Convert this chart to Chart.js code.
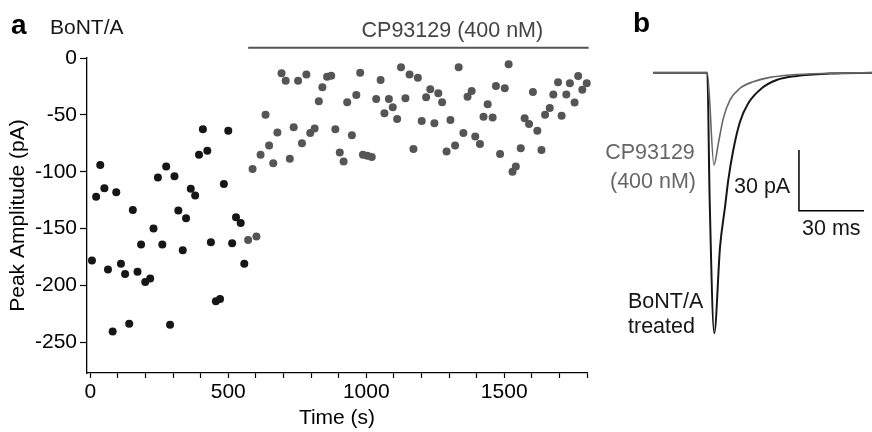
<!DOCTYPE html>
<html>
<head>
<meta charset="utf-8">
<script src="https://cdn.jsdelivr.net/npm/chart.js@4/dist/chart.umd.min.js"></script>
<style>
  html, body { margin: 0; padding: 0; background: #fff; }
  #wrap { position: relative; width: 872px; height: 432px; overflow: hidden; }
  #chart-a { position: absolute; left: 0; top: 0; }
  #chart-b { position: absolute; left: 600px; top: 0; }
</style>
</head>
<body>
<div id="wrap">
  <canvas id="chart-a" width="600" height="432"></canvas>
  <canvas id="chart-b" width="272" height="432"></canvas>
</div>
<script>
// 1. DATOS PANEL A (tiempo en s, amplitud en pA)
const bontTime = [6, 21, 36, 51, 64, 81, 94, 111, 126, 141, 154, 171, 184, 199, 217, 229, 245, 261, 275, 289,
  305, 319, 335, 347, 364, 380, 394, 408, 424, 437, 455, 470, 484, 500, 514, 528, 545, 558];
const bontAmp = [-178, -122, -94, -114.5, -186, -240.5, -118, -181, -190, -233.7, -133.6, -188, -164, -197, -194, -150, -105, -164, -95.5, -234.6,
  -104, -134, -169, -141, -115, -121, -85, -62.7, -81.5, -162, -214, -212, -110.7, -63.9, -163, -140, -145, -181];

const cpTime = [572, 588, 602, 617, 635, 648, 663, 678, 693, 708, 723, 737, 753, 767, 783, 797, 813, 828, 841, 858,
  873, 888, 904, 918, 931, 948, 964, 978, 988, 1004, 1020, 1036, 1052, 1066, 1082, 1096, 1112, 1126, 1142, 1157,
  1171, 1187, 1201, 1217, 1232, 1247, 1261, 1275, 1291, 1305, 1322, 1335, 1352, 1367, 1382, 1395, 1412, 1425, 1440, 1458,
  1470, 1485, 1502, 1516, 1530, 1542, 1560, 1574, 1590, 1604, 1620, 1635, 1648, 1665, 1678, 1695, 1708, 1725, 1738, 1755,
  1768, 1783, 1799];
const cpAmp = [-160, -97.5, -157, -85, -50, -77, -92.5, -65.6, -13.5, -20, -88.7, -61, -20, -75, -14.4, -66, -62, -38, -25.8, -16.4,
  -15.5, -62.7, -83, -91, -39, -68, -32.5, -12.9, -85, -86, -87, -36, -19.3, -48.6, -36, -43.3, -53.6, -8.2, -35.4, -14.4,
  -80, -17.3, -55.4, -34.6, -27.5, -57.4, -31, -39, -82.3, -54.5, -77, -8.2, -66, -34, -29, -69, -75.6, -51.6, -40.7, -52.4,
  -24.6, -84.4, -26.6, -5.6, -100, -95.5, -79.4, -53, -58, -30, -64, -81, -50, -44, -32, -21.4, -50.7, -32, -22.3, -39.2,
  -15.8, -28, -22.3];

// barra de aplicación del fármaco
const drugBarTime = [572, 1806];
const drugBarAmp = [9, 9];

const xTicks = [0, 100, 200, 300, 400, 500, 600, 700, 800, 900, 1000, 1100, 1200, 1300, 1400, 1500, 1600, 1700, 1800];
const yTicks = [0, -50, -100, -150, -200, -250];

// 2. DATOS PANEL B (trazas, ms / pA)
const bontTraceTime = [-25, 0, 1.1, 3.2, 5.9, 8.2, 9.7, 12.0, 15.1, 18.9, 25.1, 32.0, 41.3, 56.6, 76];
const bontTrace = [0, 0, -63, -129, -86.1, -66.3, -53.1, -38.3, -24.3, -15.1, -7.7, -3.6, -1.6, -0.4, 0];
const cpTraceTime = [-25, 0, 3.1, 5.1, 7.4, 10.5, 15.1, 21.2, 28.9, 38.2, 56.6, 76];
const cpTrace = [0, 0, -45.7, -35, -22.6, -13.5, -7.7, -4.5, -2.3, -1.1, -0.3, 0];
// barra de escala 30 pA / 30 ms
const scaleBarTime = [42.3, 42.3, 72.3];
const scaleBarAmp = [-38.3, -68.3, -68.3];

const FONT = "'Liberation Sans', Arial, sans-serif";
const BLACK = '#161616';
const GREY = '#555555';
Chart.defaults.font.family = FONT;

const toXY = (xs, ys) => xs.map((x, i) => ({ x: x, y: ys[i] }));

// 3. TEXTOS PANEL A
const textosA = {
  id: 'textosA',
  afterDraw(chart) {
    const ctx = chart.ctx;
    const sx = chart.scales.x, sy = chart.scales.y;
    ctx.save();
    ctx.textBaseline = 'middle';
    ctx.fillStyle = '#000';
    ctx.font = 'bold 28px ' + FONT;
    ctx.textAlign = 'left';
    ctx.fillText('a', 11, 26);
    ctx.font = '21px ' + FONT;
    ctx.fillStyle = BLACK;
    ctx.fillText('BoNT/A', 50, 28);
    ctx.fillStyle = '#444';
    ctx.textAlign = 'center';
    ctx.font = '21.5px ' + FONT;
    ctx.fillText('CP93129 (400 nM)', sx.getPixelForValue(1312), sy.getPixelForValue(24));
    ctx.restore();
  }
};

const chartA = new Chart(document.getElementById('chart-a'), {
  type: 'scatter',
  data: {
    datasets: [
      { label: 'BoNT/A', data: toXY(bontTime, bontAmp), backgroundColor: BLACK, borderColor: BLACK,
        pointRadius: 4, borderWidth: 0, clip: false },
      { label: 'CP93129', data: toXY(cpTime, cpAmp), backgroundColor: GREY, borderColor: GREY,
        pointRadius: 4, borderWidth: 0, clip: false },
      { type: 'line', label: 'bar', data: toXY(drugBarTime, drugBarAmp), borderColor: '#555', borderWidth: 2,
        pointRadius: 0, clip: false }
    ]
  },
  options: {
    responsive: false, animation: false,
    layout: { padding: { top: 58, right: 13, left: 0, bottom: 0 } },
    plugins: { legend: { display: false }, tooltip: { enabled: false } },
    scales: {
      x: {
        type: 'linear', min: -12, max: 1800,
        afterBuildTicks: s => { s.ticks = xTicks.map(v => ({ value: v })); },
        afterFit: s => { s.height = 59; },
        grid: { drawOnChartArea: false, tickLength: 5, color: '#000', tickWidth: 1.2 },
        border: { color: '#000', width: 1.3 },
        ticks: { color: '#000', font: { size: 21 }, padding: 2, maxRotation: 0, autoSkip: false,
          callback: v => (v % 500 === 0 ? String(v) : '') },
        title: { display: true, text: 'Time (s)', color: '#000', font: { size: 21 }, padding: { top: 0, bottom: 1 } }
      },
      y: {
        type: 'linear', min: -277, max: 0,
        afterBuildTicks: s => { s.ticks = yTicks.map(v => ({ value: v })); },
        afterFit: s => { s.width = 87; },
        grid: { drawOnChartArea: false, tickLength: 7, color: '#000', tickWidth: 1.2 },
        border: { color: '#000', width: 1.3 },
        ticks: { color: '#000', font: { size: 21 }, padding: 3, autoSkip: false },
        title: { display: true, text: 'Peak Amplitude (pA)', color: '#000', font: { size: 21 }, padding: { top: 6, bottom: 0 } }
      }
    }
  },
  plugins: [textosA]
});

// 4. TEXTOS PANEL B
const textosB = {
  id: 'textosB',
  afterDraw(chart) {
    const ctx = chart.ctx;
    ctx.save();
    ctx.textBaseline = 'middle';
    ctx.fillStyle = '#000';
    ctx.font = 'bold 28px ' + FONT;
    ctx.textAlign = 'left';
    ctx.fillText('b', 33, 24);
    ctx.font = '21.5px ' + FONT;
    ctx.fillStyle = '#666';
    ctx.textAlign = 'center';
    ctx.fillText('CP93129', 50, 153);
    ctx.fillText('(400 nM)', 53, 182);
    ctx.fillStyle = BLACK;
    ctx.textAlign = 'left';
    ctx.fillText('30 pA', 134, 187);
    ctx.fillText('30 ms', 202, 229);
    ctx.fillText('BoNT/A', 28, 302);
    ctx.fillText('treated', 28, 327);
    ctx.restore();
  }
};

const chartB = new Chart(document.getElementById('chart-b'), {
  type: 'line',
  data: {
    datasets: [
      { label: 'CP93129', data: toXY(cpTraceTime, cpTrace), borderColor: '#666', borderWidth: 1.6,
        pointRadius: 0, cubicInterpolationMode: 'monotone' },
      { label: 'BoNT/A treated', data: toXY(bontTraceTime, bontTrace), borderColor: BLACK, borderWidth: 2,
        pointRadius: 0, cubicInterpolationMode: 'monotone' },
      { label: 'escala', data: toXY(scaleBarTime, scaleBarAmp), borderColor: '#000', borderWidth: 1.5,
        pointRadius: 0, tension: 0 }
    ]
  },
  options: {
    responsive: false, animation: false,
    layout: { padding: 0 },
    plugins: { legend: { display: false }, tooltip: { enabled: false } },
    scales: {
      x: { type: 'linear', display: false, min: -49.5, max: 76 },
      y: { type: 'linear', display: false, min: -177.9, max: 36 }
    }
  },
  plugins: [textosB]
});
</script>
</body>
</html>
